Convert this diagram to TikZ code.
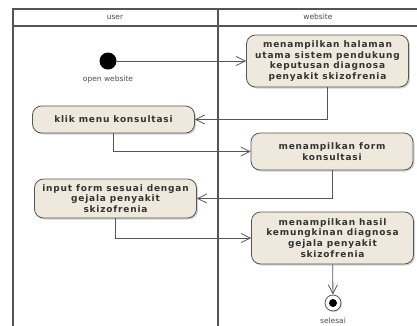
\documentclass[tikz,border=0pt]{standalone}
\usepackage{fontspec}
\setsansfont{DejaVu Sans}
\newfontfamily\actfont[LetterSpace=9]{DejaVu Sans}
\usetikzlibrary{arrows.meta,shadows}
\definecolor{actfill}{HTML}{EFE8DC}
\definecolor{lanegray}{HTML}{555555}
\begin{document}
\begin{tikzpicture}[x=1pt,y=-1pt,
  act/.style={draw=lanegray,line width=.8pt,fill=actfill,rounded corners=9pt,minimum width=162pt,align=center,inner sep=2pt,
    font=\actfont\bfseries\fontsize{9}{10.8}\selectfont,text=black!80,
    drop shadow={shadow xshift=1.5pt,shadow yshift=-1.5pt,opacity=.35}},
  flow/.style={draw=lanegray,line width=.8pt,-{Straight Barb[length=9pt,width=9pt]}},
  lbl/.style={font=\sffamily\fontsize{7.5}{9}\selectfont,text=black!70}]
\useasboundingbox (0,0) rectangle (417,325);
% swimlanes
\draw[lanegray,line width=1.2pt] (420,9) -- (13,9) -- (13,330) (13,26) -- (420,26) (218,9) -- (218,330);
\node[lbl] (laneuser) at (115,17) {user};
\node[lbl] (laneweb) at (318,17) {website};
% start and end
\node[circle,fill=black,minimum size=17pt,inner sep=0pt] (start) at (108,61) {};
\node[lbl] (startlbl) at (108,79) {open website};
\node[circle,draw=lanegray,line width=.8pt,fill=white,minimum size=16pt,inner sep=0pt,
  drop shadow={shadow xshift=1pt,shadow yshift=-1pt,opacity=.3}] (selesai) at (333,303) {};
\fill (selesai) circle (4pt);
\node[lbl] (selesailbl) at (333,321) {selesai};
% activities
\node[act,minimum height=52pt] (tampil) at (327.5,61) {menampilkan halaman\\utama sistem pendukung\\keputusan diagnosa\\penyakit skizofrenia};
\node[act,minimum height=27pt] (klik) at (113.5,119.5) {klik menu konsultasi};
\node[act,minimum height=37pt] (form) at (332,151.5) {menampilkan form\\konsultasi};
\node[act,minimum height=39pt] (input) at (115.5,198.5) {input form sesuai dengan\\gejala penyakit\\skizofrenia};
\node[act,minimum height=52pt] (hasil) at (332.5,238) {menampilkan hasil\\kemungkinan diagnosa\\gejala penyakit\\skizofrenia};
% flows
\draw[flow] (start) -- (tampil);
\foreach \a/\b in {tampil/klik,klik/form,form/input,input/hasil}
  \draw[flow] (\a) |- (\b);
\draw[flow] (hasil) -- (selesai);
\end{tikzpicture}
\end{document}
